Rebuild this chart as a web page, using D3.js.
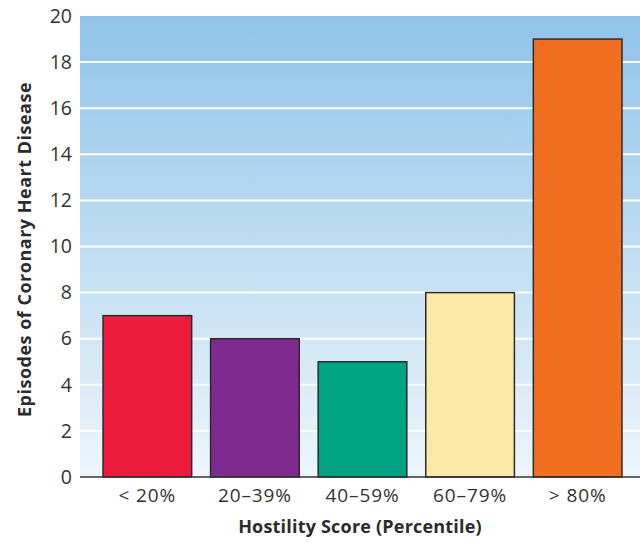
<!DOCTYPE html>
<html><head><meta charset="utf-8">
<script src="https://cdn.jsdelivr.net/npm/d3@7"></script>
<style>body{margin:0;background:#fff}svg{display:block}</style>
</head><body>
<script>
const categories = ["< 20%", "20–39%", "40–59%", "60–79%", "> 80%"];
const values = [7, 6, 5, 8, 19];
const barColors = ["#ed1b3b", "#7e2a8e", "#00a482", "#fde9a7", "#f26f22"];
const yTicks = [0, 2, 4, 6, 8, 10, 12, 14, 16, 18, 20];

const W = 640, H = 543;
const pLeft = 80, pRight = 640, pTop = 16, pBottom = 477;
const svg = d3.select("body").append("svg").attr("width", W).attr("height", H);
const font = "'Open Sans', sans-serif";

const defs = svg.append("defs");
const g = defs.append("linearGradient").attr("id", "bg").attr("x1", 0).attr("y1", 0).attr("x2", 0).attr("y2", 1);
g.append("stop").attr("offset", "0%").attr("stop-color", "#8fc4e9");
g.append("stop").attr("offset", "100%").attr("stop-color", "#eef5fb");

const y = d3.scaleLinear().domain([0, 20]).range([pBottom, pTop]);
const x = d3.scaleBand().domain(categories).range([pLeft, 645]).paddingInner(0.176).paddingOuter(0.214);

svg.append("rect").attr("x", pLeft).attr("y", pTop).attr("width", pRight - pLeft).attr("height", pBottom - pTop).attr("fill", "url(#bg)");

// gridlines
svg.append("g").selectAll("line").data(yTicks.filter(d => d > 0 && d < 20)).join("line")
  .attr("x1", pLeft).attr("x2", pRight).attr("y1", d => y(d)).attr("y2", d => y(d))
  .attr("stroke", "#fff").attr("stroke-width", 2);

// bars
svg.append("g").selectAll("rect").data(values).join("rect")
  .attr("x", (d, i) => x(categories[i])).attr("width", x.bandwidth())
  .attr("y", d => y(d)).attr("height", d => y(0) - y(d))
  .attr("fill", (d, i) => barColors[i]).attr("stroke", "#2b2b2b").attr("stroke-width", 1.5);

// y axis
const ya = svg.append("g").attr("transform", `translate(${pLeft},0)`)
  .call(d3.axisLeft(y).tickValues(yTicks).tickSize(0).tickPadding(8));
ya.select(".domain").remove();
ya.selectAll("text").attr("font-family", font).attr("font-size", 19.5).attr("fill", "#333");

// x axis
const xa = svg.append("g").attr("transform", `translate(0,${pBottom})`)
  .call(d3.axisBottom(x).tickSize(0).tickPadding(12));
xa.select(".domain").remove();
xa.selectAll("text").attr("font-family", font).attr("font-size", 19).attr("fill", "#333").attr("letter-spacing", 0.9);
svg.append("line").attr("x1", pLeft).attr("x2", pRight).attr("y1", pBottom).attr("y2", pBottom)
  .attr("stroke", "#333").attr("stroke-width", 1.5);

svg.append("text").attr("x", (pLeft + pRight) / 2).attr("y", 533).attr("text-anchor", "middle")
  .attr("font-family", font).attr("font-weight", "bold").attr("font-size", 18).attr("fill", "#2b2b2b")
  .attr("letter-spacing", 0.2)
  .text("Hostility Score (Percentile)");
svg.append("text").attr("transform", `translate(31,${(pTop + pBottom) / 2 + 3}) rotate(-90)`).attr("text-anchor", "middle")
  .attr("font-family", font).attr("font-weight", "bold").attr("font-size", 18).attr("fill", "#2b2b2b")
  .attr("letter-spacing", 0.5)
  .text("Episodes of Coronary Heart Disease");
</script>
</body></html>
